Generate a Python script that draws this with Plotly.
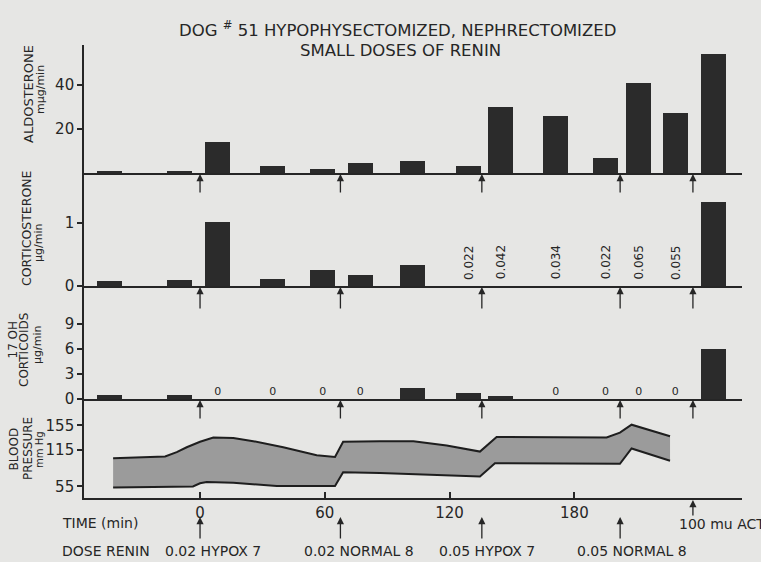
import plotly.graph_objects as go

# ---------------- data ----------------
period_mid = [-43.5, -10, 8.5, 35, 59, 77, 102, 129, 144.5, 171, 195, 211, 228.5, 247]  # min
aldosterone = [1, 1, 14, 3, 2, 4.5, 5.5, 3, 30, 26, 7, 41, 27, 54]  # mμg/min
corticosterone = [0.08, 0.10, 1.02, 0.11, 0.25, 0.17, 0.34, None, None, None, None, None, None, 1.33]
cortico_labels = ["", "", "", "", "", "", "", "0.022", "0.042", "0.034", "0.022", "0.065", "0.055", ""]
oh_corticoids = [0.45, 0.45, 0, 0, 0, 0, 1.3, 0.7, 0.4, 0, 0, 0, 0, 6.0]  # μg/min, 0 drawn as "0"

bp_upper_t = [-41.8, -16.8, -11.2, -6.4, 0, 6.4, 16, 25.6, 40, 56.1, 64.9, 68.8, 86.5,
              102.6, 118.6, 134.6, 142.6, 195.5, 201.9, 207.5, 226]
bp_upper = [101, 104, 111, 119, 128, 135, 134, 129, 119, 106, 103, 128, 129,
            129, 122, 112, 136, 135, 143, 156, 137]
bp_lower_t = [-41.8, -3.4, 0, 3.2, 16, 36.9, 64.9, 68.8, 86.5, 134.6, 141.8, 201.9, 207.5, 226]
bp_lower = [53, 55, 60, 62, 61, 55.5, 55.5, 78, 77, 71, 93, 92, 117, 97]

dose_times = [0, 67.5, 135.5, 202]
dose_labels = ["0.02 HYPOX 7", "0.02 NORMAL 8", "0.05 HYPOX 7", "0.05 NORMAL 8"]
acth_time = 237
time_ticks = [0, 60, 120, 180]

# ---------------- style ----------------
W, H = 761, 562
BG = "#e6e6e4"
INK = "#262626"
FONT = "DejaVu Sans"
XR = [-55.8, 260.6]

def py(p):  # pixel row -> paper y
    return 1 - p / H

def px(p):
    return p / W

fig = go.Figure()

bar_kw = dict(marker=dict(color="#2b2b2b", line=dict(width=0)), width=12, showlegend=False, hoverinfo="skip")
fig.add_trace(go.Bar(x=period_mid, y=aldosterone, xaxis="x4", yaxis="y4", **bar_kw))
fig.add_trace(go.Bar(x=period_mid, y=corticosterone, xaxis="x3", yaxis="y3", **bar_kw))
fig.add_trace(go.Bar(x=[t for t, v in zip(period_mid, oh_corticoids) if v > 0],
                     y=[v for v in oh_corticoids if v > 0], xaxis="x2", yaxis="y2", **bar_kw))
zero_t = [t for t, v in zip(period_mid, oh_corticoids) if v == 0]
fig.add_trace(go.Scatter(x=zero_t, y=[0.85] * len(zero_t), mode="text", text=["0"] * len(zero_t),
                         textfont=dict(family=FONT, size=11, color=INK),
                         xaxis="x2", yaxis="y2", showlegend=False, hoverinfo="skip"))

# blood pressure band
poly_x = bp_upper_t + bp_lower_t[::-1]
poly_y = bp_upper + bp_lower[::-1]
fig.add_trace(go.Scatter(x=poly_x, y=poly_y, fill="toself", fillcolor="#9b9b9b",
                         line=dict(width=0), mode="lines", xaxis="x", yaxis="y",
                         showlegend=False, hoverinfo="skip"))
for tx, ty in ((bp_upper_t, bp_upper), (bp_lower_t, bp_lower)):
    fig.add_trace(go.Scatter(x=tx, y=ty, mode="lines", line=dict(color="#1e1e1e", width=2),
                             xaxis="x", yaxis="y", showlegend=False, hoverinfo="skip"))

xd = [px(84), px(742)]
tickfont = dict(family=FONT, size=15, color=INK)
ax_common = dict(showline=True, linecolor=INK, linewidth=1.6, showgrid=False, zeroline=False,
                 range=XR, domain=xd, automargin=False)
y_common = dict(showline=True, linecolor=INK, linewidth=1.6, showgrid=False, zeroline=False,
                ticks="outside", ticklen=5, tickwidth=1.5, tickcolor=INK, tickfont=tickfont,
                automargin=False)

fig.update_layout(
    width=W, height=H, autosize=False, paper_bgcolor=BG, plot_bgcolor=BG,
    margin=dict(l=0, r=0, t=0, b=0, pad=0, autoexpand=False), bargap=0,
    font=dict(family=FONT, color=INK),
    xaxis=dict(**ax_common, anchor="y", tickvals=time_ticks, ticks="inside", ticklen=6,
               tickwidth=1.5, tickcolor=INK, tickfont=tickfont),
    xaxis2=dict(**ax_common, anchor="y2", showticklabels=False, matches="x"),
    xaxis3=dict(**ax_common, anchor="y3", showticklabels=False, matches="x"),
    xaxis4=dict(**ax_common, anchor="y4", showticklabels=False, matches="x"),
    yaxis=dict(**y_common, domain=[py(498), py(399)], range=[36, 198], tickvals=[55, 115, 155], anchor="x"),
    yaxis2=dict(**y_common, domain=[py(399), py(286)], range=[0, 13.56], tickvals=[0, 3, 6, 9], anchor="x2"),
    yaxis3=dict(**y_common, domain=[py(286), py(173)], range=[0, 1.794], tickvals=[0, 1], anchor="x3"),
    yaxis4=dict(**y_common, domain=[py(173), py(45)], range=[0, 58], tickvals=[20, 40], anchor="x4"),
)

ann = []
def text(x, y, s, size=14, xref="paper", yref="paper", angle=0, xanchor="center", yanchor="middle", xshift=0):
    ann.append(dict(x=x, y=y, xref=xref, yref=yref, text=s, showarrow=False, textangle=angle,
                    xanchor=xanchor, yanchor=yanchor, xshift=xshift,
                    font=dict(family=FONT, size=size, color=INK)))

# title
text(px(397), py(29), "DOG <sup>#</sup> 51 HYPOPHYSECTOMIZED, NEPHRECTOMIZED", size=16.5)
text(px(400), py(50), "SMALL DOSES OF RENIN", size=16.5)

# axis titles (rotated)
text(px(28), py(94), "ALDOSTERONE", size=13, angle=-90)
text(px(40), py(90), "mμg/min", size=11, angle=-90)
text(px(26), py(228), "CORTICOSTERONE", size=12.5, angle=-90)
text(px(38), py(243), "μg/min", size=11, angle=-90)
text(px(12.5), py(340), "17 OH", size=12, angle=-90)
text(px(24), py(350), "CORTICOIDS", size=12, angle=-90)
text(px(37), py(345), "μg/min", size=11, angle=-90)
text(px(13.5), py(449), "BLOOD", size=12, angle=-90)
text(px(28), py(449), "PRESSURE", size=12, angle=-90)
text(px(39), py(450), "mm Hg", size=10, angle=-90)

# corticosterone small values
for t, s in zip(period_mid, cortico_labels):
    if s:
        text(t, 0.37, s, size=12, xref="x3", yref="y3", angle=-90)

# arrows under each panel baseline
arrow_times = dose_times + [acth_time]
for xr, yr, L in (("x4", "y4", 21), ("x3", "y3", 24), ("x2", "y2", 21)):
    for t in arrow_times:
        ann.append(dict(x=t, y=0, xref=xr, yref=yr, ax=0, ay=L, axref="pixel", ayref="pixel",
                        showarrow=True, arrowhead=2, arrowsize=1.1, arrowwidth=1.3,
                        arrowcolor=INK, text="", standoff=1))
for t in dose_times:
    ann.append(dict(x=t, y=py(517), xref="x", yref="paper", ax=0, ay=23, showarrow=True,
                    arrowhead=2, arrowsize=1.1, arrowwidth=1.3, arrowcolor=INK, text=""))
ann.append(dict(x=acth_time, y=py(500), xref="x", yref="paper", ax=0, ay=17, showarrow=True,
                arrowhead=2, arrowsize=1.1, arrowwidth=1.3, arrowcolor=INK, text=""))

text(px(60), py(523), "TIME (min)", size=14, xanchor="left")
text(px(60), py(551), "DOSE RENIN", size=14, xanchor="left")
for t, s, sh in zip(dose_times, dose_labels, [13, 19, 5, 12]):
    text(t, py(551), s, size=14, xref="x", xshift=sh)
text(acth_time, py(524), "100 mu ACTH", size=14, xref="x", xanchor="left", xshift=-16)

fig.update_layout(annotations=ann)
fig.write_html("out.html",
               config={"responsive": False, "displayModeBar": False},
               post_script="document.body.style.margin='0';document.body.style.overflow='hidden';"
                           "document.body.style.background='" + BG + "';")
